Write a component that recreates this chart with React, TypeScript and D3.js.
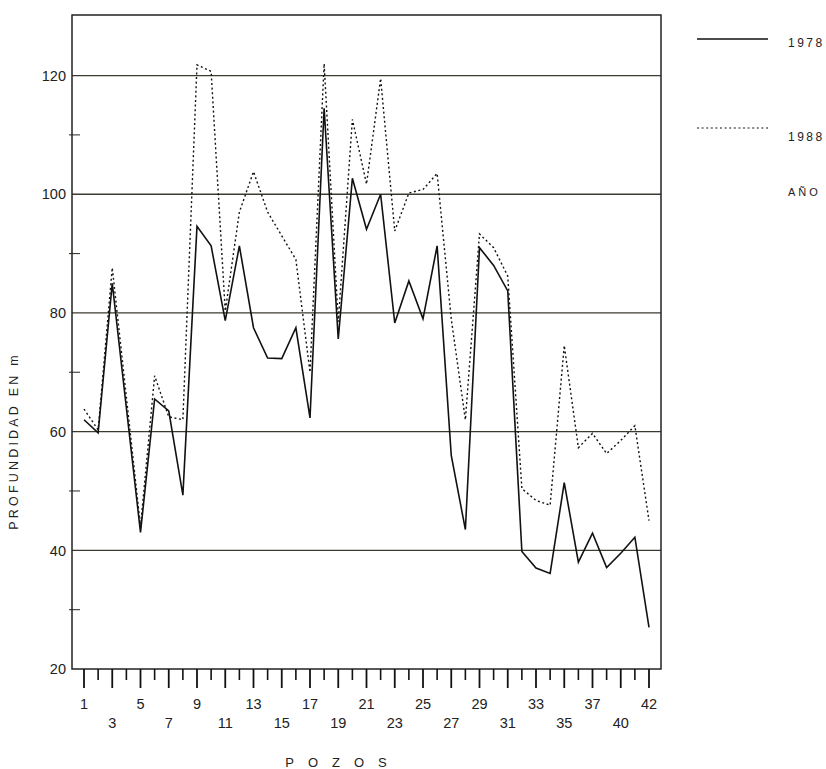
import React from "react";
import * as d3 from "d3";

const pozos = ["1","2","3","4","5","6","7","8","9","10","11","12","13","14","15","16","17","18","19","20","21","22","23","24","25","26","27","28","29","30","31","32","33","34","35","36","37","38","40","41","42"];
const labelTop = ["1","5","9","13","17","21","25","29","33","37","42"];
const labelBottom = ["3","7","11","15","19","23","27","31","35","40"];
const prof1978 = [62, 59.8, 85, 64, 43, 65.5, 63.5, 49.3, 94.6, 91.3, 78.7, 91.3, 77.5, 72.4, 72.3, 77.5, 62.3, 114.5, 75.6, 102.7, 94.1, 100, 78.3, 85.4, 79, 91.3, 56, 43.5, 91, 88, 83.7, 39.8, 37, 36.1, 51.4, 38, 42.9, 37.1, 39.5, 42.2, 27];
const prof1988 = [63.8, 60.3, 87.6, 65.8, 44, 69.4, 62.5, 62, 121.8, 120.7, 80.3, 97, 103.8, 97, 93, 89, 70, 122, 78.5, 112.6, 101.7, 119.5, 93.8, 100.2, 100.8, 103.5, 79, 62, 93.3, 91, 86.2, 50.4, 48.4, 47.6, 74.5, 57.3, 59.7, 56.3, 58.5, 61, 45];
const yTicks = [20, 40, 60, 80, 100, 120];
const gridValues = [40, 60, 80, 100, 120];
const minorTicks = [30, 50, 70, 90, 110];
const years = ["1978", "1988"];

const W = 826, H = 769;
const left = 72, right = 661, top = 15, bottom = 669;
const font = "'Liberation Sans', Arial, sans-serif";

export default function App() {
  const x = d3.scalePoint<string>().domain(pozos).range([84, 649]);
  const y = d3.scaleLinear().domain([20, 130.2]).range([bottom, top]);
  const line = d3.line<number>().x((_, i) => x(pozos[i]) as number).y((d) => y(d));
  const lineColor = "#111";
  const gridColor = "#3d3a30";
  return (
    <svg width={W} height={H} style={{ position: "absolute", left: 0, top: 0, background: "#fff" }}>
      {/* gridlines */}
      {gridValues.map((v) => (
        <line key={"g" + v} x1={left} x2={right} y1={y(v)} y2={y(v)} stroke={gridColor} strokeWidth={1.3} />
      ))}
      {/* minor ticks */}
      {minorTicks.map((v) => (
        <line key={"m" + v} x1={left - 3} x2={left + 8} y1={y(v)} y2={y(v)} stroke={gridColor} strokeWidth={1.1} />
      ))}
      {/* frame */}
      <rect x={left} y={top} width={right - left} height={bottom - top} fill="none" stroke="#222" strokeWidth={1.5} />
      {/* y labels */}
      {yTicks.map((v) => (
        <text key={"yl" + v} x={66} y={y(v)} dy="0.36em" textAnchor="end" fontFamily={font} fontSize={14.5} fill="#222">{v}</text>
      ))}
      {/* x ticks */}
      {pozos.map((p) => {
        const long = labelTop.includes(p) || labelBottom.includes(p);
        return (
          <line key={"t" + p} x1={x(p)} x2={x(p)} y1={bottom} y2={bottom + (long ? 19 : 11)} stroke="#111" strokeWidth={long ? 1.8 : 1.6} />
        );
      })}
      {labelTop.map((p) => (
        <text key={"lt" + p} x={x(p)} y={704} dy="0.36em" textAnchor="middle" fontFamily={font} fontSize={14.5} fill="#222">{p}</text>
      ))}
      {labelBottom.map((p) => (
        <text key={"lb" + p} x={x(p)} y={723} dy="0.36em" textAnchor="middle" fontFamily={font} fontSize={14.5} fill="#222">{p}</text>
      ))}
      {/* axis titles */}
      <text x={343} y={762} dy="0.36em" textAnchor="middle" fontFamily={font} fontSize={13} letterSpacing={14} fill="#222">POZOS</text>
      <text transform={`translate(13,441) rotate(-90)`} dy="0.36em" textAnchor="middle" fontFamily={font} fontSize={12.5} letterSpacing={3.2} fill="#222">PROFUNDIDAD EN m</text>
      {/* series */}
      <path d={line(prof1988) || ""} fill="none" stroke={lineColor} strokeWidth={1.4} strokeDasharray="2,2.6" />
      <path d={line(prof1978) || ""} fill="none" stroke={lineColor} strokeWidth={1.6} strokeLinejoin="miter" />
      {/* legend */}
      <line x1={697} x2={768} y1={39} y2={39} stroke={lineColor} strokeWidth={1.4} />
      <text x={788} y={43} dy="0.36em" fontFamily={font} fontSize={12} letterSpacing={2.5} fill="#222">{years[0]}</text>
      <line x1={697} x2={768} y1={128} y2={128} stroke={lineColor} strokeWidth={1.2} strokeDasharray="2,2.6" />
      <text x={788} y={137} dy="0.36em" fontFamily={font} fontSize={12} letterSpacing={2.5} fill="#222">{years[1]}</text>
      <text x={788} y={192} dy="0.36em" fontFamily={font} fontSize={11} letterSpacing={3} fill="#222">AÑO</text>
    </svg>
  );
}
